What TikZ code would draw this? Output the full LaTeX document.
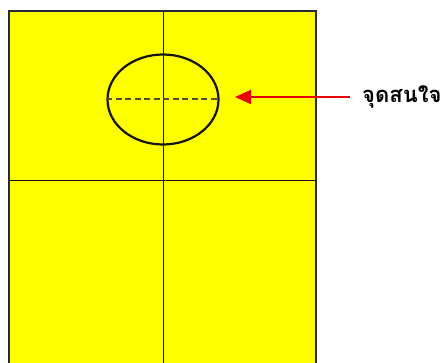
\documentclass[tikz,border=0pt]{standalone}
\usepackage{fontspec}
\newfontfamily\thaifont[Script=Thai]{Loma}
\definecolor{paper}{RGB}{255,255,0}
\definecolor{frame}{RGB}{40,40,60}
\definecolor{ink}{RGB}{20,20,20}
\definecolor{dashink}{RGB}{80,80,20}
\definecolor{arrowred}{RGB}{230,0,0}
\usetikzlibrary{arrows.meta,positioning,shapes.geometric}

\begin{document}
\begin{tikzpicture}[x=1pt,y=-1pt,
    spot/.style={draw=ink, line width=2.2pt, ellipse, minimum width=111pt, minimum height=90pt, inner sep=0pt},
    pointer/.style={draw=arrowred, line width=1.8pt, -{Triangle[length=16pt,width=14pt]}}]
  \useasboundingbox (0,0) rectangle (448,363);
  \clip (0,0) rectangle (448,363);
  % sheet with quarter lines
  \fill[paper] (9,11) rectangle (316,370);
  \draw[frame, line width=1.6pt] (9,370) -- (9,11) -- (316,11) -- (316,370);
  \draw[ink, line width=1pt] (163,11) -- (163,370);
  \draw[ink, line width=1pt] (9,181) -- (316,181);
  % point of interest
  \node[spot] (focus) at (163,99.5) {};
  \draw[dashink, line width=2pt, dash pattern=on 6pt off 3.5pt] (focus.west) -- (focus.east);
  \node[anchor=west, inner sep=0pt, font=\thaifont\bfseries\fontsize{22}{26}\selectfont] (label) at (362,97) {จุดสนใจ};
  \coordinate (tail) at (350,97);
  \coordinate (tip) at (235,97);
  \draw[pointer] (tail) -- (tip);
\end{tikzpicture}
\end{document}
